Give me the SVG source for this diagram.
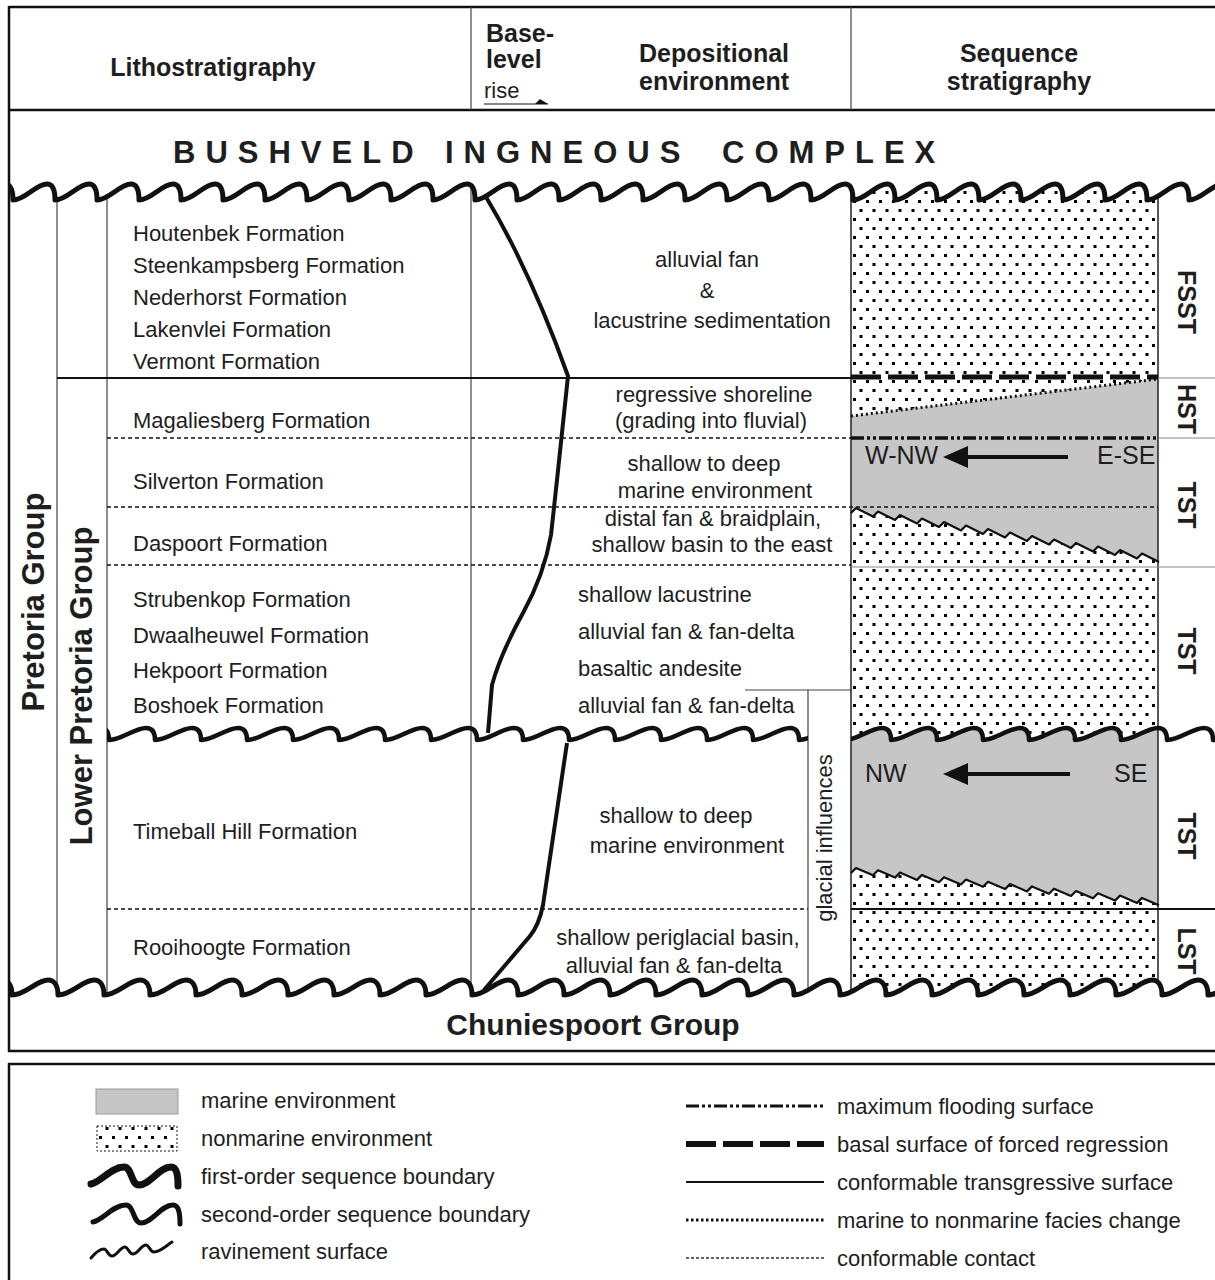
<svg xmlns="http://www.w3.org/2000/svg" width="1215" height="1280" viewBox="0 0 1215 1280">
<style>
text{font-family:"Liberation Sans",Arial,Helvetica,sans-serif;fill:#1e1e1e}
.h{font-size:25px;font-weight:bold}
.b{font-size:22px}
.c{text-anchor:middle}
.grp{font-size:31px;font-weight:bold;text-anchor:middle}
.seq{font-size:25px;font-weight:bold;text-anchor:middle}
.dir{font-size:25px}
.vl{stroke:#444;stroke-width:1.2;fill:none}
.cc{stroke:#111;stroke-width:1.3;stroke-dasharray:4 3;fill:none}
.sep{stroke:#888;stroke-width:1.2;fill:none}
.w1{stroke:#111;stroke-width:5;fill:none;stroke-linejoin:round;stroke-linecap:round}
.w2{stroke:#111;stroke-width:4.5;fill:none;stroke-linejoin:round;stroke-linecap:round}
.rav{stroke:#111;stroke-width:2.2;fill:none;stroke-linejoin:round}
.frame{stroke:#111;stroke-width:2.5;fill:none}
</style>
<defs>
<pattern id="dots" width="13" height="18" patternUnits="userSpaceOnUse" x="851" y="197">
<rect width="13" height="18" fill="#fff"/>
<rect x="2" y="3" width="3" height="3" fill="#000"/>
<rect x="8.5" y="12" width="3" height="3" fill="#000"/>
</pattern>
<clipPath id="frameClip"><rect x="10" y="0" width="1205" height="1280"/></clipPath>
<clipPath id="colClip"><rect x="851" y="150" width="307" height="870"/></clipPath>
<clipPath id="midClip"><rect x="107" y="690" width="701" height="80"/><rect x="851" y="690" width="364" height="80"/></clipPath>
</defs>
<rect width="1215" height="1280" fill="#fff"/>

<!-- sequence stratigraphy column fills -->
<g id="seqcolumn" clip-path="url(#colClip)">
<rect x="851" y="150" width="307" height="870" fill="url(#dots)"/>
<path fill="#c6c6c6" d="M851,416 L1158,379 L1159,562 l-17,-8.5 l-5,5 l-17,-8.5 l-5,5 l-17,-8.5 l-5,5 l-17,-8.5 l-5,5 l-17,-8.5 l-5,5 l-17,-8.5 l-5,5 l-17,-8.5 l-5,5 l-17,-8.5 l-5,5 l-17,-8.5 l-5,5 l-17,-8.5 l-5,5 l-17,-8.5 l-5,5 l-17,-8.5 l-5,5 l-17,-8.5 l-5,5 l-17,-8.5 l-5,5 Z"/>
<path fill="#c6c6c6" d="M799,740 c13,0 25,-12 37,-12 c5,0 9,3 9,12 c13,0 25,-12 37,-12 c5,0 9,3 9,12 c13,0 25,-12 37,-12 c5,0 9,3 9,12 c13,0 25,-12 37,-12 c5,0 9,3 9,12 c13,0 25,-12 37,-12 c5,0 9,3 9,12 c13,0 25,-12 37,-12 c5,0 9,3 9,12 c13,0 25,-12 37,-12 c5,0 9,3 9,12 c13,0 25,-12 37,-12 c5,0 9,3 9,12 c13,0 25,-12 37,-12 c5,0 9,3 9,12 L1213,905 L1159,905 l-17,-7.3 l-5,5 l-17,-7.3 l-5,5 l-17,-7.3 l-5,5 l-17,-7.3 l-5,5 l-17,-7.3 l-5,5 l-17,-7.3 l-5,5 l-17,-7.3 l-5,5 l-17,-7.3 l-5,5 l-17,-7.3 l-5,5 l-17,-7.3 l-5,5 l-17,-7.3 l-5,5 l-17,-7.3 l-5,5 l-17,-7.3 l-5,5 l-17,-7.3 l-5,5 L799,873 Z"/>
</g>

<!-- vertical column lines -->
<g id="columns">
<line class="vl" x1="57" y1="150" x2="57" y2="1020"/>
<line class="vl" x1="107" y1="150" x2="107" y2="1020"/>
<line class="vl" x1="471" y1="150" x2="471" y2="1020"/>
<line class="vl" x1="808" y1="690" x2="808" y2="1020"/>
<line class="vl" x1="745" y1="690" x2="851" y2="690"/>
<line x1="851" y1="150" x2="851" y2="1020" stroke="#222" stroke-width="1.5"/>
<line x1="1158" y1="150" x2="1158" y2="1020" stroke="#222" stroke-width="1.5"/>
</g>

<!-- white covers outside the first-order boundaries -->
<g id="covers" clip-path="url(#frameClip)" fill="#fff">
<path d="M-29,200 c12,0 23,-16 34,-16 c5,0 8,4 8,16 c12,0 23,-16 34,-16 c5,0 8,4 8,16 c12,0 23,-16 34,-16 c5,0 8,4 8,16 c12,0 23,-16 34,-16 c5,0 8,4 8,16 c12,0 23,-16 34,-16 c5,0 8,4 8,16 c12,0 23,-16 34,-16 c5,0 8,4 8,16 c12,0 23,-16 34,-16 c5,0 8,4 8,16 c12,0 23,-16 34,-16 c5,0 8,4 8,16 c12,0 23,-16 34,-16 c5,0 8,4 8,16 c12,0 23,-16 34,-16 c5,0 8,4 8,16 c12,0 23,-16 34,-16 c5,0 8,4 8,16 c12,0 23,-16 34,-16 c5,0 8,4 8,16 c12,0 23,-16 34,-16 c5,0 8,4 8,16 c12,0 23,-16 34,-16 c5,0 8,4 8,16 c12,0 23,-16 34,-16 c5,0 8,4 8,16 c12,0 23,-16 34,-16 c5,0 8,4 8,16 c12,0 23,-16 34,-16 c5,0 8,4 8,16 c12,0 23,-16 34,-16 c5,0 8,4 8,16 c12,0 23,-16 34,-16 c5,0 8,4 8,16 c12,0 23,-16 34,-16 c5,0 8,4 8,16 c12,0 23,-16 34,-16 c5,0 8,4 8,16 c12,0 23,-16 34,-16 c5,0 8,4 8,16 c12,0 23,-16 34,-16 c5,0 8,4 8,16 c12,0 23,-16 34,-16 c5,0 8,4 8,16 c12,0 23,-16 34,-16 c5,0 8,4 8,16 c12,0 23,-16 34,-16 c5,0 8,4 8,16 c12,0 23,-16 34,-16 c5,0 8,4 8,16 c12,0 23,-16 34,-16 c5,0 8,4 8,16 c12,0 23,-16 34,-16 c5,0 8,4 8,16 c12,0 23,-16 34,-16 c5,0 8,4 8,16 V112 H-29 Z"/>
<path d="M-34,995 c13,0 25,-15 36,-15 c5,0 10,4 10,15 c13,0 25,-15 36,-15 c5,0 10,4 10,15 c13,0 25,-15 36,-15 c5,0 10,4 10,15 c13,0 25,-15 36,-15 c5,0 10,4 10,15 c13,0 25,-15 36,-15 c5,0 10,4 10,15 c13,0 25,-15 36,-15 c5,0 10,4 10,15 c13,0 25,-15 36,-15 c5,0 10,4 10,15 c13,0 25,-15 36,-15 c5,0 10,4 10,15 c13,0 25,-15 36,-15 c5,0 10,4 10,15 c13,0 25,-15 36,-15 c5,0 10,4 10,15 c13,0 25,-15 36,-15 c5,0 10,4 10,15 c13,0 25,-15 36,-15 c5,0 10,4 10,15 c13,0 25,-15 36,-15 c5,0 10,4 10,15 c13,0 25,-15 36,-15 c5,0 10,4 10,15 c13,0 25,-15 36,-15 c5,0 10,4 10,15 c13,0 25,-15 36,-15 c5,0 10,4 10,15 c13,0 25,-15 36,-15 c5,0 10,4 10,15 c13,0 25,-15 36,-15 c5,0 10,4 10,15 c13,0 25,-15 36,-15 c5,0 10,4 10,15 c13,0 25,-15 36,-15 c5,0 10,4 10,15 c13,0 25,-15 36,-15 c5,0 10,4 10,15 c13,0 25,-15 36,-15 c5,0 10,4 10,15 c13,0 25,-15 36,-15 c5,0 10,4 10,15 c13,0 25,-15 36,-15 c5,0 10,4 10,15 c13,0 25,-15 36,-15 c5,0 10,4 10,15 c13,0 25,-15 36,-15 c5,0 10,4 10,15 c13,0 25,-15 36,-15 c5,0 10,4 10,15 c13,0 25,-15 36,-15 c5,0 10,4 10,15 V1048 H-34 Z"/>
</g>

<!-- frame and header -->
<g id="frame">
<line class="frame" x1="9" y1="7" x2="1215" y2="7"/>
<line class="frame" x1="9" y1="110" x2="1215" y2="110"/>
<line class="frame" x1="9" y1="6" x2="9" y2="1052"/>
<line class="frame" x1="8" y1="1051" x2="1215" y2="1051"/>
<line class="vl" x1="471" y1="7" x2="471" y2="110"/>
<line class="vl" x1="851" y1="7" x2="851" y2="110"/>
<line stroke="#111" stroke-width="1" x1="484" y1="104" x2="548" y2="104"/>
<polygon points="535,104 548,104 540,99" fill="#111"/>
</g>

<g id="header-text">
<text class="h c" x="213" y="76">Lithostratigraphy</text>
<text class="h" x="486" y="42">Base-</text>
<text class="h" x="486" y="68">level</text>
<text class="b" x="484" y="98">rise</text>
<text class="h c" x="714" y="62">Depositional</text>
<text class="h c" x="714" y="90">environment</text>
<text class="h c" x="1019" y="62">Sequence</text>
<text class="h c" x="1019" y="90">stratigraphy</text>
</g>

<text id="bushveld" y="163" style="font-size:31px;font-weight:bold;letter-spacing:10px"><tspan x="173">BUSHVELD</tspan><tspan x="445">INGNEOUS</tspan><tspan x="722">COMPLEX</tspan></text>
<text id="chuniespoort" class="c" x="593" y="1035" style="font-size:30px;font-weight:bold">Chuniespoort Group</text>

<g id="groups">
<text class="grp" transform="translate(44,602) rotate(-90)">Pretoria Group</text>
<text class="grp" transform="translate(92,686) rotate(-90)">Lower Pretoria Group</text>
</g>

<g id="formations">
<text class="b" x="133" y="241">Houtenbek Formation</text>
<text class="b" x="133" y="273">Steenkampsberg Formation</text>
<text class="b" x="133" y="305">Nederhorst Formation</text>
<text class="b" x="133" y="337">Lakenvlei Formation</text>
<text class="b" x="133" y="369">Vermont Formation</text>
<text class="b" x="133" y="428">Magaliesberg Formation</text>
<text class="b" x="133" y="489">Silverton Formation</text>
<text class="b" x="133" y="551">Daspoort Formation</text>
<text class="b" x="133" y="607">Strubenkop Formation</text>
<text class="b" x="133" y="643">Dwaalheuwel Formation</text>
<text class="b" x="133" y="678">Hekpoort Formation</text>
<text class="b" x="133" y="713">Boshoek Formation</text>
<text class="b" x="133" y="839">Timeball Hill Formation</text>
<text class="b" x="133" y="955">Rooihoogte Formation</text>
</g>

<g id="environments">
<text class="b c" x="707" y="267">alluvial fan</text>
<text class="b c" x="707" y="298">&amp;</text>
<text class="b c" x="712" y="328">lacustrine sedimentation</text>
<text class="b c" x="714" y="402">regressive shoreline</text>
<text class="b c" x="711" y="428">(grading into fluvial)</text>
<text class="b c" x="704" y="471">shallow to deep</text>
<text class="b c" x="715" y="498">marine environment</text>
<text class="b c" x="713" y="526">distal fan &amp; braidplain,</text>
<text class="b c" x="712" y="552">shallow basin to the east</text>
<text class="b" x="578" y="602">shallow lacustrine</text>
<text class="b" x="578" y="639">alluvial fan &amp; fan-delta</text>
<text class="b" x="578" y="676">basaltic andesite</text>
<text class="b" x="578" y="713">alluvial fan &amp; fan-delta</text>
<text class="b c" x="676" y="823">shallow to deep</text>
<text class="b c" x="687" y="853">marine environment</text>
<text class="b c" x="678" y="945">shallow periglacial basin,</text>
<text class="b c" x="674" y="973">alluvial fan &amp; fan-delta</text>
<text class="b c" transform="translate(832,838) rotate(-90)">glacial influences</text>
</g>

<g id="seq-labels">
<text class="seq" transform="translate(1178,302) rotate(90)">FSST</text>
<text class="seq" transform="translate(1178,409) rotate(90)">HST</text>
<text class="seq" transform="translate(1178,505) rotate(90)">TST</text>
<text class="seq" transform="translate(1178,651) rotate(90)">TST</text>
<text class="seq" transform="translate(1178,836) rotate(90)">TST</text>
<text class="seq" transform="translate(1178,951) rotate(90)">LST</text>
<text class="dir" x="865" y="464">W-NW</text>
<text class="dir" x="1097" y="464">E-SE</text>
<text class="dir" x="865" y="782">NW</text>
<text class="dir" x="1114" y="782">SE</text>
</g>

<!-- connectors: surfaces, boundaries, base-level curve, arrows -->
<g id="connectors">
<line x1="57" y1="378" x2="851" y2="378" stroke="#111" stroke-width="2"/>
<line class="cc" x1="107" y1="438" x2="851" y2="438"/>
<line class="cc" x1="107" y1="507" x2="1158" y2="507"/>
<line class="cc" x1="107" y1="565" x2="851" y2="565"/>
<line class="cc" x1="107" y1="909" x2="808" y2="909"/>
<line x1="851" y1="909" x2="1215" y2="909" stroke="#111" stroke-width="2"/>
<line class="sep" x1="1158" y1="378" x2="1215" y2="378"/>
<line class="sep" x1="1158" y1="438" x2="1215" y2="438"/>
<line class="sep" x1="851" y1="567" x2="1215" y2="567"/>
<line x1="851" y1="377" x2="1158" y2="377" stroke="#111" stroke-width="5" stroke-dasharray="30 7"/>
<line x1="851" y1="438" x2="1158" y2="438" stroke="#111" stroke-width="3.5" stroke-dasharray="13 3 3 3 3 3"/>
<line x1="851" y1="416" x2="1158" y2="379" stroke="#111" stroke-width="3" stroke-dasharray="2 3"/>
<path class="rav" d="M851,513 l5,-5 l17,8.5 l5,-5 l17,8.5 l5,-5 l17,8.5 l5,-5 l17,8.5 l5,-5 l17,8.5 l5,-5 l17,8.5 l5,-5 l17,8.5 l5,-5 l17,8.5 l5,-5 l17,8.5 l5,-5 l17,8.5 l5,-5 l17,8.5 l5,-5 l17,8.5 l5,-5 l17,8.5 l5,-5 l17,8.5"/>
<path class="rav" d="M851,873 l5,-5 l17,7.3 l5,-5 l17,7.3 l5,-5 l17,7.3 l5,-5 l17,7.3 l5,-5 l17,7.3 l5,-5 l17,7.3 l5,-5 l17,7.3 l5,-5 l17,7.3 l5,-5 l17,7.3 l5,-5 l17,7.3 l5,-5 l17,7.3 l5,-5 l17,7.3 l5,-5 l17,7.3 l5,-5 l17,7.3"/>
<path class="w1" clip-path="url(#frameClip)" d="M-29,200 c12,0 23,-16 34,-16 c5,0 8,4 8,16 c12,0 23,-16 34,-16 c5,0 8,4 8,16 c12,0 23,-16 34,-16 c5,0 8,4 8,16 c12,0 23,-16 34,-16 c5,0 8,4 8,16 c12,0 23,-16 34,-16 c5,0 8,4 8,16 c12,0 23,-16 34,-16 c5,0 8,4 8,16 c12,0 23,-16 34,-16 c5,0 8,4 8,16 c12,0 23,-16 34,-16 c5,0 8,4 8,16 c12,0 23,-16 34,-16 c5,0 8,4 8,16 c12,0 23,-16 34,-16 c5,0 8,4 8,16 c12,0 23,-16 34,-16 c5,0 8,4 8,16 c12,0 23,-16 34,-16 c5,0 8,4 8,16 c12,0 23,-16 34,-16 c5,0 8,4 8,16 c12,0 23,-16 34,-16 c5,0 8,4 8,16 c12,0 23,-16 34,-16 c5,0 8,4 8,16 c12,0 23,-16 34,-16 c5,0 8,4 8,16 c12,0 23,-16 34,-16 c5,0 8,4 8,16 c12,0 23,-16 34,-16 c5,0 8,4 8,16 c12,0 23,-16 34,-16 c5,0 8,4 8,16 c12,0 23,-16 34,-16 c5,0 8,4 8,16 c12,0 23,-16 34,-16 c5,0 8,4 8,16 c12,0 23,-16 34,-16 c5,0 8,4 8,16 c12,0 23,-16 34,-16 c5,0 8,4 8,16 c12,0 23,-16 34,-16 c5,0 8,4 8,16 c12,0 23,-16 34,-16 c5,0 8,4 8,16 c12,0 23,-16 34,-16 c5,0 8,4 8,16 c12,0 23,-16 34,-16 c5,0 8,4 8,16 c12,0 23,-16 34,-16 c5,0 8,4 8,16 c12,0 23,-16 34,-16 c5,0 8,4 8,16 c12,0 23,-16 34,-16 c5,0 8,4 8,16 c12,0 23,-16 34,-16 c5,0 8,4 8,16"/>
<path class="w2" clip-path="url(#midClip)" d="M63,740 c13,0 25,-12 37,-12 c5,0 9,3 9,12 c13,0 25,-12 37,-12 c5,0 9,3 9,12 c13,0 25,-12 37,-12 c5,0 9,3 9,12 c13,0 25,-12 37,-12 c5,0 9,3 9,12 c13,0 25,-12 37,-12 c5,0 9,3 9,12 c13,0 25,-12 37,-12 c5,0 9,3 9,12 c13,0 25,-12 37,-12 c5,0 9,3 9,12 c13,0 25,-12 37,-12 c5,0 9,3 9,12 c13,0 25,-12 37,-12 c5,0 9,3 9,12 c13,0 25,-12 37,-12 c5,0 9,3 9,12 c13,0 25,-12 37,-12 c5,0 9,3 9,12 c13,0 25,-12 37,-12 c5,0 9,3 9,12 c13,0 25,-12 37,-12 c5,0 9,3 9,12 c13,0 25,-12 37,-12 c5,0 9,3 9,12 c13,0 25,-12 37,-12 c5,0 9,3 9,12 c13,0 25,-12 37,-12 c5,0 9,3 9,12 c13,0 25,-12 37,-12 c5,0 9,3 9,12 c13,0 25,-12 37,-12 c5,0 9,3 9,12 c13,0 25,-12 37,-12 c5,0 9,3 9,12 c13,0 25,-12 37,-12 c5,0 9,3 9,12 c13,0 25,-12 37,-12 c5,0 9,3 9,12 c13,0 25,-12 37,-12 c5,0 9,3 9,12 c13,0 25,-12 37,-12 c5,0 9,3 9,12 c13,0 25,-12 37,-12 c5,0 9,3 9,12 c13,0 25,-12 37,-12 c5,0 9,3 9,12 c13,0 25,-12 37,-12 c5,0 9,3 9,12"/>
<path class="w1" clip-path="url(#frameClip)" d="M-34,995 c13,0 25,-15 36,-15 c5,0 10,4 10,15 c13,0 25,-15 36,-15 c5,0 10,4 10,15 c13,0 25,-15 36,-15 c5,0 10,4 10,15 c13,0 25,-15 36,-15 c5,0 10,4 10,15 c13,0 25,-15 36,-15 c5,0 10,4 10,15 c13,0 25,-15 36,-15 c5,0 10,4 10,15 c13,0 25,-15 36,-15 c5,0 10,4 10,15 c13,0 25,-15 36,-15 c5,0 10,4 10,15 c13,0 25,-15 36,-15 c5,0 10,4 10,15 c13,0 25,-15 36,-15 c5,0 10,4 10,15 c13,0 25,-15 36,-15 c5,0 10,4 10,15 c13,0 25,-15 36,-15 c5,0 10,4 10,15 c13,0 25,-15 36,-15 c5,0 10,4 10,15 c13,0 25,-15 36,-15 c5,0 10,4 10,15 c13,0 25,-15 36,-15 c5,0 10,4 10,15 c13,0 25,-15 36,-15 c5,0 10,4 10,15 c13,0 25,-15 36,-15 c5,0 10,4 10,15 c13,0 25,-15 36,-15 c5,0 10,4 10,15 c13,0 25,-15 36,-15 c5,0 10,4 10,15 c13,0 25,-15 36,-15 c5,0 10,4 10,15 c13,0 25,-15 36,-15 c5,0 10,4 10,15 c13,0 25,-15 36,-15 c5,0 10,4 10,15 c13,0 25,-15 36,-15 c5,0 10,4 10,15 c13,0 25,-15 36,-15 c5,0 10,4 10,15 c13,0 25,-15 36,-15 c5,0 10,4 10,15 c13,0 25,-15 36,-15 c5,0 10,4 10,15 c13,0 25,-15 36,-15 c5,0 10,4 10,15 c13,0 25,-15 36,-15 c5,0 10,4 10,15"/>
<path stroke="#111" stroke-width="4" fill="none" stroke-linejoin="round" d="M486,197 Q530,270 568,376 L557,480 L551,535 Q544,575 523,613 Q500,655 492,685 L488,733"/>
<path stroke="#111" stroke-width="4" fill="none" stroke-linejoin="round" d="M567,743 L543,905 Q539,925 530,936 L484,990"/>
<line x1="1068" y1="457" x2="962" y2="457" stroke="#111" stroke-width="4"/>
<polygon points="943,457 968,446 968,468" fill="#111"/>
<line x1="1070" y1="774" x2="962" y2="774" stroke="#111" stroke-width="4"/>
<polygon points="943,774 968,763 968,785" fill="#111"/>
</g>

<!-- legend -->
<g id="legend">
<line class="frame" x1="8" y1="1064" x2="1215" y2="1064"/>
<line class="frame" x1="9" y1="1063" x2="9" y2="1280"/>
<rect x="96" y="1089" width="82" height="25" fill="#c6c6c6" stroke="#999" stroke-width="1"/>
<rect x="97" y="1126" width="80" height="25" fill="url(#dots)" stroke="#111" stroke-width="1" stroke-dasharray="2 2"/>
<path stroke="#111" stroke-width="7" fill="none" stroke-linecap="round" stroke-linejoin="round" d="M91,1184 C101,1182 111,1167 124,1167 C132,1167 131,1185 139,1185 C150,1185 159,1167 171,1167 C177,1167 178,1176 178,1186"/>
<path stroke="#111" stroke-width="5" fill="none" stroke-linecap="round" stroke-linejoin="round" d="M93,1222 C103,1220 113,1205 126,1205 C134,1205 133,1223 141,1223 C152,1223 161,1205 173,1205 C179,1205 180,1214 180,1224"/>
<path stroke="#111" stroke-width="3" fill="none" stroke-linecap="round" stroke-linejoin="round" d="M91,1258 c5,-6 9,-9 13,-9 c3,0 4,7 8,7 c5,0 8,-9 13,-9 c3,0 4,7 8,7 c5,0 8,-9 13,-9 c3,0 4,7 8,7 c6,0 12,-6 18,-10"/>
<text class="b" x="201" y="1108">marine environment</text>
<text class="b" x="201" y="1146">nonmarine environment</text>
<text class="b" x="201" y="1184">first-order sequence boundary</text>
<text class="b" x="201" y="1222">second-order sequence boundary</text>
<text class="b" x="201" y="1259">ravinement surface</text>
<line x1="686" y1="1106" x2="824" y2="1106" stroke="#111" stroke-width="3" stroke-dasharray="13 3 3 3 3 3"/>
<line x1="686" y1="1144" x2="824" y2="1144" stroke="#111" stroke-width="6" stroke-dasharray="30 7"/>
<line x1="686" y1="1182" x2="824" y2="1182" stroke="#111" stroke-width="2"/>
<line x1="686" y1="1220" x2="824" y2="1220" stroke="#111" stroke-width="3" stroke-dasharray="2.5 2.5"/>
<line x1="686" y1="1258" x2="824" y2="1258" stroke="#333" stroke-width="1.3" stroke-dasharray="3 2"/>
<text class="b" x="837" y="1114">maximum flooding surface</text>
<text class="b" x="837" y="1152">basal surface of forced regression</text>
<text class="b" x="837" y="1190">conformable transgressive surface</text>
<text class="b" x="837" y="1228">marine to nonmarine facies change</text>
<text class="b" x="837" y="1266">conformable contact</text>
</g>
</svg>
